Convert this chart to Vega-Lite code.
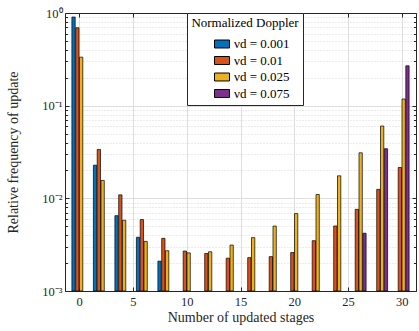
{
  "$schema": "https://vega.github.io/schema/vega-lite/v6.json",
  "width": 351,
  "height": 278,
  "autosize": "none",
  "padding": {"left": 65, "top": 13, "right": 3, "bottom": 40},
  "background": "white",
  "data": {"values": [
    {"nu": "0.001", "stage": 0, "freq": 0.905},
    {"nu": "0.001", "stage": 2, "freq": 0.0228},
    {"nu": "0.001", "stage": 4, "freq": 0.0065},
    {"nu": "0.001", "stage": 6, "freq": 0.0038},
    {"nu": "0.001", "stage": 8, "freq": 0.0021},
    {"nu": "0.01", "stage": 0, "freq": 0.693},
    {"nu": "0.01", "stage": 2, "freq": 0.0337},
    {"nu": "0.01", "stage": 4, "freq": 0.0109},
    {"nu": "0.01", "stage": 6, "freq": 0.0059},
    {"nu": "0.01", "stage": 8, "freq": 0.0037},
    {"nu": "0.01", "stage": 10, "freq": 0.0027},
    {"nu": "0.01", "stage": 12, "freq": 0.00254},
    {"nu": "0.01", "stage": 14, "freq": 0.00226},
    {"nu": "0.01", "stage": 16, "freq": 0.00229},
    {"nu": "0.01", "stage": 18, "freq": 0.00235},
    {"nu": "0.01", "stage": 20, "freq": 0.0026},
    {"nu": "0.01", "stage": 22, "freq": 0.00349},
    {"nu": "0.01", "stage": 24, "freq": 0.00503},
    {"nu": "0.01", "stage": 26, "freq": 0.0076},
    {"nu": "0.01", "stage": 28, "freq": 0.0125},
    {"nu": "0.01", "stage": 30, "freq": 0.0215},
    {"nu": "0.025", "stage": 0, "freq": 0.334},
    {"nu": "0.025", "stage": 2, "freq": 0.0156},
    {"nu": "0.025", "stage": 4, "freq": 0.0058},
    {"nu": "0.025", "stage": 6, "freq": 0.00343},
    {"nu": "0.025", "stage": 8, "freq": 0.00272},
    {"nu": "0.025", "stage": 10, "freq": 0.00258},
    {"nu": "0.025", "stage": 12, "freq": 0.00265},
    {"nu": "0.025", "stage": 14, "freq": 0.00313},
    {"nu": "0.025", "stage": 16, "freq": 0.00377},
    {"nu": "0.025", "stage": 18, "freq": 0.00502},
    {"nu": "0.025", "stage": 20, "freq": 0.00685},
    {"nu": "0.025", "stage": 22, "freq": 0.011},
    {"nu": "0.025", "stage": 24, "freq": 0.0175},
    {"nu": "0.025", "stage": 26, "freq": 0.031},
    {"nu": "0.025", "stage": 28, "freq": 0.0603},
    {"nu": "0.025", "stage": 30, "freq": 0.118},
    {"nu": "0.075", "stage": 26, "freq": 0.0042},
    {"nu": "0.075", "stage": 28, "freq": 0.0343},
    {"nu": "0.075", "stage": 30, "freq": 0.269}
  ]},
  "layer": [
    {
      "transform": [{"filter": "datum.nu == '0.001'"}],
      "mark": {"type": "bar", "width": 3.3, "xOffset": -5.7, "stroke": "black", "strokeWidth": 0.7},
      "encoding": {
        "x": {"field": "stage", "type": "quantitative",
          "scale": {"domain": [-0.86, 30.86], "nice": false, "zero": false},
          "axis": {"orient": "bottom", "values": [0, 5, 10, 15, 20, 25, 30], "grid": true, "gridColor": "#dedede", "gridWidth": 1,
            "domain": true, "domainColor": "#262626", "ticks": true, "tickSize": -4, "tickColor": "#262626", "labelPadding": 8,
            "title": "Number of updated stages", "titlePadding": 3}},
        "y": {"field": "freq", "type": "quantitative",
          "scale": {"type": "log", "domain": [0.001, 1], "nice": false},
          "axis": {"orient": "left", "values": [0.001, 0.01, 0.1, 1], "grid": true, "gridColor": "#dedede", "gridWidth": 1,
            "domain": true, "domainColor": "#262626", "ticks": true, "tickSize": -4, "tickColor": "#262626", "labelPadding": 7,
            "labelExpr": "datum.value == 1 ? '10⁰' : datum.value == 0.1 ? '10⁻¹' : datum.value == 0.01 ? '10⁻²' : '10⁻³'",
            "title": "Relative frequency of update", "titlePadding": 21}},
        "y2": {"datum": 0.001},
        "color": {"field": "nu", "type": "nominal",
          "scale": {"domain": ["0.001", "0.01", "0.025", "0.075"], "range": ["#0072BD", "#D95319", "#EDB120", "#7E2F8E"]},
          "legend": {"title": "Normalized Doppler", "orient": "none", "legendX": 122, "legendY": 0,
            "labelExpr": "'νd = ' + datum.label"}}
      }
    },
    {
      "transform": [{"filter": "datum.nu == '0.01'"}],
      "mark": {"type": "bar", "width": 3.3, "xOffset": -1.9, "stroke": "black", "strokeWidth": 0.7},
      "encoding": {
        "x": {"field": "stage", "type": "quantitative",
          "scale": {"domain": [-0.86, 30.86], "nice": false, "zero": false},
          "axis": {"orient": "top", "values": [0, 5, 10, 15, 20, 25, 30], "grid": false, "labels": false,
            "domain": true, "domainColor": "#262626", "ticks": true, "tickSize": -4, "tickColor": "#262626", "title": null}},
        "y": {"field": "freq", "type": "quantitative",
          "scale": {"type": "log", "domain": [0.001, 1], "nice": false},
          "axis": {"orient": "left", "values": [0.002, 0.003, 0.004, 0.005, 0.006, 0.007, 0.008, 0.009, 0.02, 0.03, 0.04, 0.05, 0.06, 0.07, 0.08, 0.09, 0.2, 0.3, 0.4, 0.5, 0.6, 0.7, 0.8, 0.9],
            "grid": true, "gridColor": "#d8d8d8", "gridDash": [1, 2], "gridWidth": 1, "labels": false,
            "domain": false, "ticks": true, "tickSize": -2.5, "tickColor": "#262626", "title": null}},
        "y2": {"datum": 0.001},
        "color": {"field": "nu", "type": "nominal",
          "scale": {"domain": ["0.001", "0.01", "0.025", "0.075"], "range": ["#0072BD", "#D95319", "#EDB120", "#7E2F8E"]}}
      }
    },
    {
      "transform": [{"filter": "datum.nu == '0.025'"}],
      "mark": {"type": "bar", "width": 3.3, "xOffset": 1.9, "stroke": "black", "strokeWidth": 0.7},
      "encoding": {
        "x": {"field": "stage", "type": "quantitative",
          "scale": {"domain": [-0.86, 30.86], "nice": false, "zero": false}, "axis": null},
        "y": {"field": "freq", "type": "quantitative",
          "scale": {"type": "log", "domain": [0.001, 1], "nice": false},
          "axis": {"orient": "right", "values": [0.001, 0.01, 0.1, 1], "grid": false, "labels": false,
            "domain": true, "domainColor": "#262626", "ticks": true, "tickSize": -4, "tickColor": "#262626", "title": null}},
        "y2": {"datum": 0.001},
        "color": {"field": "nu", "type": "nominal",
          "scale": {"domain": ["0.001", "0.01", "0.025", "0.075"], "range": ["#0072BD", "#D95319", "#EDB120", "#7E2F8E"]}}
      }
    },
    {
      "transform": [{"filter": "datum.nu == '0.075'"}],
      "mark": {"type": "bar", "width": 3.3, "xOffset": 5.7, "stroke": "black", "strokeWidth": 0.7},
      "encoding": {
        "x": {"field": "stage", "type": "quantitative",
          "scale": {"domain": [-0.86, 30.86], "nice": false, "zero": false}, "axis": null},
        "y": {"field": "freq", "type": "quantitative",
          "scale": {"type": "log", "domain": [0.001, 1], "nice": false},
          "axis": {"orient": "right", "values": [0.002, 0.003, 0.004, 0.005, 0.006, 0.007, 0.008, 0.009, 0.02, 0.03, 0.04, 0.05, 0.06, 0.07, 0.08, 0.09, 0.2, 0.3, 0.4, 0.5, 0.6, 0.7, 0.8, 0.9],
            "grid": false, "labels": false, "domain": false, "ticks": true, "tickSize": -2.5, "tickColor": "#262626", "title": null}},
        "y2": {"datum": 0.001},
        "color": {"field": "nu", "type": "nominal",
          "scale": {"domain": ["0.001", "0.01", "0.025", "0.075"], "range": ["#0072BD", "#D95319", "#EDB120", "#7E2F8E"]}}
      }
    }
  ],
  "resolve": {"axis": {"x": "independent", "y": "independent"}},
  "config": {
    "font": "Liberation Serif",
    "view": {"stroke": null},
    "axis": {"labelFont": "Liberation Serif", "labelFontSize": 12.5, "labelColor": "#262626",
      "titleFont": "Liberation Serif", "titleFontSize": 14, "titleFontWeight": "normal", "titleColor": "#262626"},
    "legend": {"fillColor": "white", "strokeColor": "#262626", "strokeWidth": 1, "padding": 4,
      "titleFont": "Liberation Serif", "titleFontSize": 13, "titleFontWeight": "normal", "titleColor": "black",
      "titleAnchor": "middle", "titlePadding": 6,
      "labelFont": "Liberation Serif", "labelFontSize": 13, "labelColor": "black",
      "symbolType": "M-1,-0.53H1V0.53H-1Z", "symbolSize": 225, "symbolStrokeColor": "black", "symbolStrokeWidth": 1,
      "symbolFillOpacity": 1, "symbolOpacity": 1, "symbolOffset": 14, "rowPadding": 1.5}
  }
}
